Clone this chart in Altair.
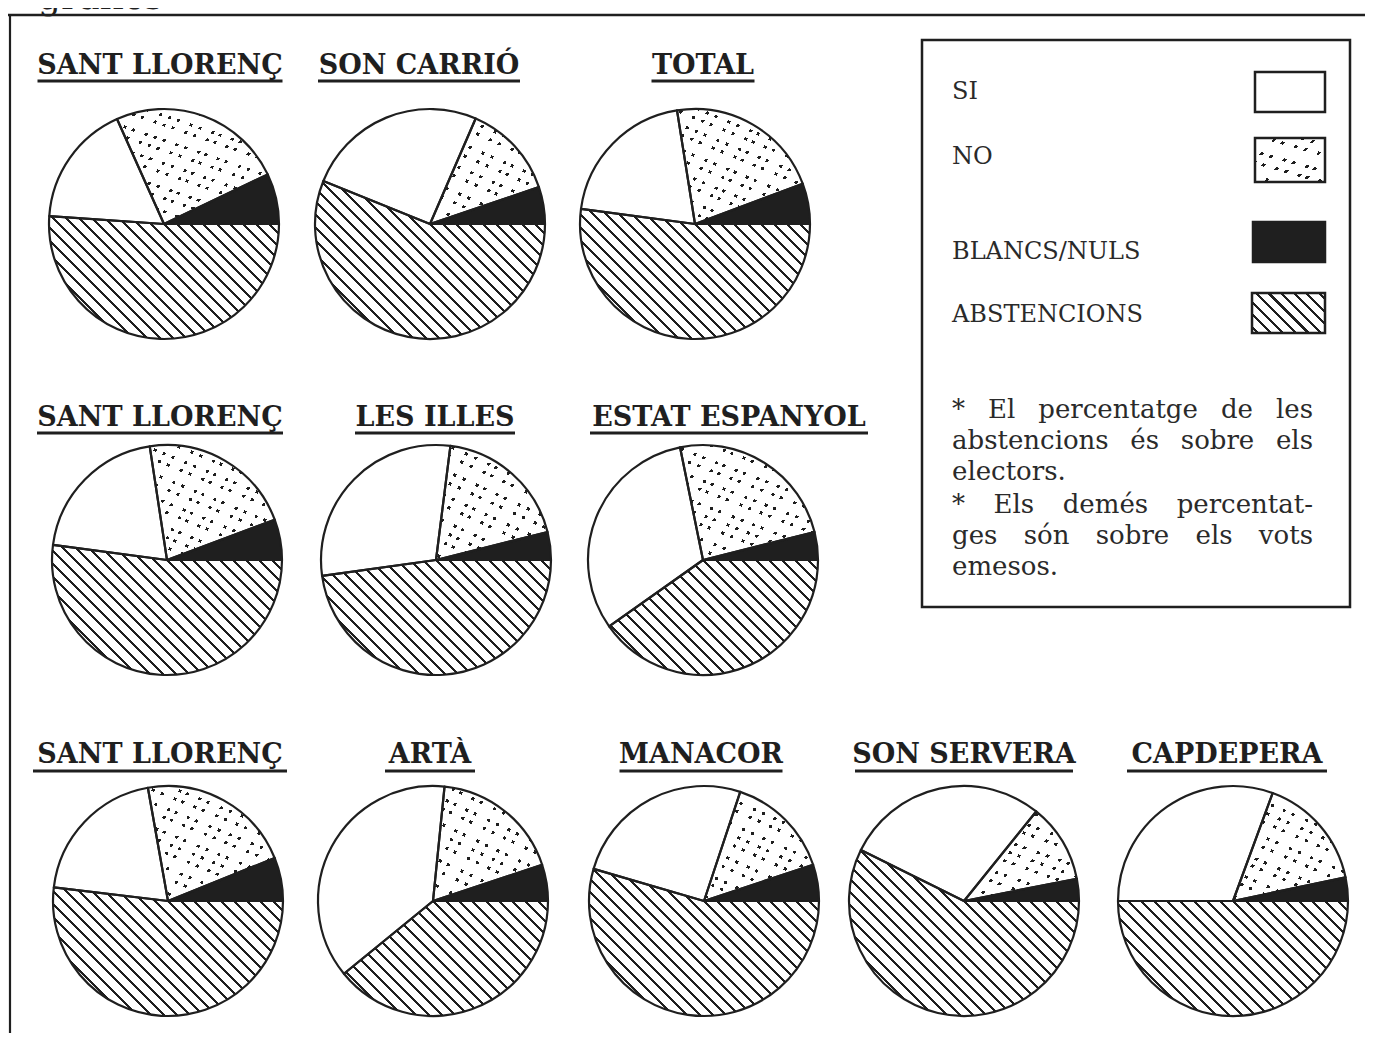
import math
import altair as alt
import pandas as pd

# ---------------- data (% of each pie) ----------------
PIES = ["SANT LLORENÇ", "SON CARRIÓ", "TOTAL",
        "SANT LLORENÇ", "LES ILLES", "ESTAT ESPANYOL",
        "SANT LLORENÇ", "ARTÀ", "MANACOR", "SON SERVERA", "CAPDEPERA"]
CATEGORIES = ["SI", "NO", "BLANCS/NULS", "ABSTENCIONS"]
SI = [17.2, 25.4, 20.4, 20.5, 29.2, 31.6, 20.3, 37.5, 25.6, 28.5, 30.6]
NO = [24.6, 13.3, 21.8, 21.7, 19.1, 24.3, 21.7, 18.3, 14.8, 11.1, 16.1]
BLANCS = [7.1, 5.2, 5.7, 5.7, 3.9, 3.9, 6.1, 5.1, 5.1, 3.1, 3.3]
ABST = [51.1, 56.1, 52.1, 52.1, 47.8, 40.2, 51.9, 39.1, 54.5, 57.3, 50.0]
NOTE_LINES = ["* El percentatge de les",
              "abstencions és sobre els",
              "electors.",
              "* Els demés percentat-",
              "ges són sobre els vots",
              "emesos."]
NOTE_JUSTIFY = [True, True, False, True, True, False]
HEADING = "gràfics"

# ---------------- layout / style (page pixel coordinates) ----------------
M = 8
W, H = 1357, 1025
INK = "#1f1f1f"
TXT = "#2a2a2a"
PAPER = "#ffffff"
R = 115
CENTERS = [(164, 224), (430, 224), (695, 224),
           (167, 560), (436, 560), (703, 560),
           (168, 901), (433, 901), (704, 901), (964, 901), (1233, 901)]
ROW = [0, 0, 0, 1, 1, 1, 2, 2, 2, 2, 2]
TITLE_X = [160, 419, 703, 160, 435, 729, 160, 430, 701, 964, 1227]
TITLE_BASE = [74, 426, 763]
UNDER_Y = [81, 433, 771]
UNDER_W = [245, 202, 103, 246, 160, 278, 254, 90, 163, 218, 200]
TITLE_FONT = "DejaVu Serif"
NOTE_SIZE = 26
NOTE_LEFT, NOTE_RIGHT = 952, 1313
NOTE_BASE = [418, 449, 480, 513, 544, 575]
JIT = [0.0, 0.12, -0.08, 0.16, 0.02, -0.14, 0.09, -0.04, 0.18, -0.11, 0.05, -0.17, 0.13, -0.02, 0.07, -0.12, 0.15]
# approximate DejaVu Serif advance widths (em), used only to justify the note text
CW = {'*': 0.5, 'E': 0.73, 'l': 0.32, 'p': 0.64, 'e': 0.592, 'r': 0.478, 'c': 0.56, 'n': 0.644,
      't': 0.402, 'a': 0.596, 'g': 0.64, 'd': 0.64, 's': 0.513, 'b': 0.64, 'o': 0.602, 'i': 0.32,
      'é': 0.592, 'ó': 0.602, '.': 0.318, '-': 0.338, 'm': 0.948, 'v': 0.565}

# ---------------- table for the slices ----------------
ORDER = ["ABSTENCIONS", "SI", "NO", "BLANCS/NULS"]
rows = []
for i, name in enumerate(PIES):
    vals = {"ABSTENCIONS": ABST[i], "SI": SI[i], "NO": NO[i], "BLANCS/NULS": BLANCS[i]}
    acc = 0.0
    for cat in ORDER:
        rows.append(dict(pie=i, name=name, cat=cat, start=acc, end=acc + vals[cat]))
        acc += vals[cat]
df = pd.DataFrame(rows)
legend_df = pd.DataFrame({"cat": CATEGORIES})
one_df = pd.DataFrame({"k": [0]})


# ---------------- pattern helpers (gradient stripes) ----------------
def cover(vx, vy):
    n = math.hypot(vx, vy)
    ux, uy = vx / n, vy / n
    corners = [(0, 0), (1, 0), (0, 1), (1, 1)]
    proj = [a * ux + b * uy for a, b in corners]
    i0 = proj.index(min(proj))
    span = max(proj) - min(proj)
    x1, y1 = corners[i0]
    return x1, y1, x1 + ux * span, y1 + uy * span


def stripes(vx, vy, n, frac, ink, paper, shift=0, jitter=False):
    x1, y1, x2, y2 = cover(vx, vy)
    stops = [{"offset": 0, "color": paper}]
    h = frac / (2 * n)
    for k in range(n):
        j = JIT[(k + shift) % len(JIT)] if jitter else 0.0
        c = (k + 0.5 + j) / n
        a, b = round(max(c - h, 0.0), 5), round(min(c + h, 1.0), 5)
        stops += [{"offset": a, "color": paper}, {"offset": a, "color": ink},
                  {"offset": b, "color": ink}, {"offset": b, "color": paper}]
    stops.append({"offset": 1, "color": paper})
    return {"gradient": "linear", "x1": round(x1, 5), "y1": round(y1, 5),
            "x2": round(x2, 5), "y2": round(y2, 5), "stops": stops}


def dots(w, h, shift=0):
    na = max(3, round(w / 8.5))
    nb = max(3, round(h / 8.5))
    a = stripes(1, 0.55, na, 2.2 / 8.5, INK, PAPER, shift, True)
    b = stripes(-0.45, 1, nb, 2.2 / 8.5, "rgba(255,255,255,0)", PAPER, shift + 7, True)
    return a, b


def wedge_bbox(s, e, r):
    angs = [s * 3.6, e * 3.6]
    for a in (0, 90, 180, 270, 360):
        if s * 3.6 < a < e * 3.6:
            angs.append(a)
    xs, ys = [0.0], [0.0]
    for a in angs:
        xs.append(r * math.cos(math.radians(a)))
        ys.append(r * math.sin(math.radians(a)))
    return max(xs) - min(xs), max(ys) - min(ys)


def text_w(word, size):
    return sum(CW.get(ch, 0.6) for ch in word) * size


HATCH_PIE = stripes(1, -1, 35, 0.23, INK, PAPER)
HATCH_SW = stripes(73, -40, 9, 0.25, INK, PAPER)
DOTS_SW = dots(70, 44, 3)

theta_scale = alt.Scale(domain=[0, 100], range=[math.pi / 2, math.pi / 2 + 2 * math.pi])

layers = []

# frame and heading
layers.append(alt.Chart(one_df).mark_rule(color=INK, strokeWidth=2.5).encode(
    x=alt.value(0), x2=alt.value(W), y=alt.value(15 - M)))
layers.append(alt.Chart(one_df).mark_rule(color=INK, strokeWidth=2.2).encode(
    x=alt.value(10 - M), y=alt.value(15 - M), y2=alt.value(H)))
layers.append(alt.Chart(one_df).mark_text(font="DejaVu Serif", fontSize=36, align="left",
                                           baseline="alphabetic", color=INK).encode(
    x=alt.value(38 - M), y=alt.value(9 - M), text=alt.value(HEADING)))

# pies
for i in range(len(PIES)):
    cx, cy = CENTERS[i]
    pos = dict(x=alt.value(cx - M), y=alt.value(cy - M))
    base = alt.Chart(df).transform_filter(alt.datum.pie == i)
    enc = dict(theta=alt.Theta("start:Q", scale=theta_scale), theta2=alt.Theta2("end:Q"), **pos)

    layers.append(base.transform_filter(alt.datum.cat == "ABSTENCIONS")
                  .transform_calculate(s0="0", s1="100")
                  .mark_arc(radius=R, fill=HATCH_PIE)
                  .encode(theta=alt.Theta("s0:Q", scale=theta_scale), theta2=alt.Theta2("s1:Q"), **pos))
    layers.append(base.transform_filter(alt.datum.cat == "SI")
                  .mark_arc(radius=R, fill=PAPER).encode(**enc))
    s = df[(df.pie == i) & (df.cat == "NO")].iloc[0]
    bw, bh = wedge_bbox(s.start, s.end, R)
    da, db = dots(bw, bh, i)
    layers.append(base.transform_filter(alt.datum.cat == "NO")
                  .mark_arc(radius=R, fill=da).encode(**enc))
    layers.append(base.transform_filter(alt.datum.cat == "NO")
                  .mark_arc(radius=R, fill=db).encode(**enc))
    layers.append(base.transform_filter(alt.datum.cat == "BLANCS/NULS")
                  .mark_arc(radius=R, fill=INK).encode(**enc))
    layers.append(base.mark_arc(radius=R, filled=False, stroke=INK, strokeWidth=2.2,
                                strokeJoin="round").encode(**enc))

    # title with underline
    tb = TITLE_BASE[ROW[i]]
    tx = TITLE_X[i]
    tsel = base.transform_filter(alt.datum.cat == "SI")
    layers.append(tsel.mark_text(font=TITLE_FONT, fontSize=27, fontWeight="bold", align="center",
                                 baseline="alphabetic", color=INK)
                  .encode(x=alt.value(tx - M), y=alt.value(tb - M), text="name:N"))
    layers.append(tsel.mark_rule(color=INK, strokeWidth=3)
                  .encode(x=alt.value(tx - UNDER_W[i] / 2 - M), x2=alt.value(tx + UNDER_W[i] / 2 - M),
                          y=alt.value(UNDER_Y[ROW[i]] - M)))

# legend box
layers.append(alt.Chart(one_df).mark_rect(filled=False, stroke=INK, strokeWidth=2.5).encode(
    x=alt.value(922 - M), x2=alt.value(1350 - M), y=alt.value(40 - M), y2=alt.value(607 - M)))

LEG_BASE = {"SI": 99, "NO": 164, "BLANCS/NULS": 259, "ABSTENCIONS": 322}
LEG_SW = {"SI": (1255, 72, 1325, 112), "NO": (1255, 138, 1325, 182),
          "BLANCS/NULS": (1253, 222, 1325, 262), "ABSTENCIONS": (1252, 293, 1325, 333)}
LEG_FILL = {"SI": [PAPER], "NO": list(DOTS_SW), "BLANCS/NULS": [INK], "ABSTENCIONS": [HATCH_SW]}

for cat in CATEGORIES:
    lb = alt.Chart(legend_df).transform_filter(alt.datum.cat == cat)
    layers.append(lb.mark_text(font="DejaVu Serif", fontSize=24, align="left", baseline="alphabetic",
                               color=TXT)
                  .encode(x=alt.value(952 - M), y=alt.value(LEG_BASE[cat] - M), text="cat:N"))
    x1, y1, x2, y2 = LEG_SW[cat]
    rpos = dict(x=alt.value(x1 - M), x2=alt.value(x2 - M), y=alt.value(y1 - M), y2=alt.value(y2 - M))
    for f in LEG_FILL[cat]:
        layers.append(lb.mark_rect(fill=f).encode(**rpos))
    layers.append(lb.mark_rect(filled=False, stroke=INK, strokeWidth=2.5).encode(**rpos))

# justified note text, word by word
for li, line in enumerate(NOTE_LINES):
    words = line.split(" ")
    widths = [text_w(w_, NOTE_SIZE) for w_ in words]
    if NOTE_JUSTIFY[li] and len(words) > 1:
        gap = (NOTE_RIGHT - NOTE_LEFT - sum(widths)) / (len(words) - 1)
    else:
        gap = 0.318 * NOTE_SIZE
    xpos = NOTE_LEFT
    for w_, wd in zip(words, widths):
        layers.append(alt.Chart(one_df).mark_text(font="DejaVu Serif", fontSize=NOTE_SIZE, align="left",
                                                   baseline="alphabetic", color=TXT)
                      .encode(x=alt.value(xpos - M), y=alt.value(NOTE_BASE[li] - M), text=alt.value(w_)))
        xpos += wd + gap

chart = alt.layer(*layers).properties(
    width=W, height=H, padding=0, autosize="none", background=PAPER
).configure_view(strokeWidth=0)

chart.save("out.html", embed_options={"renderer": "svg", "actions": False})
